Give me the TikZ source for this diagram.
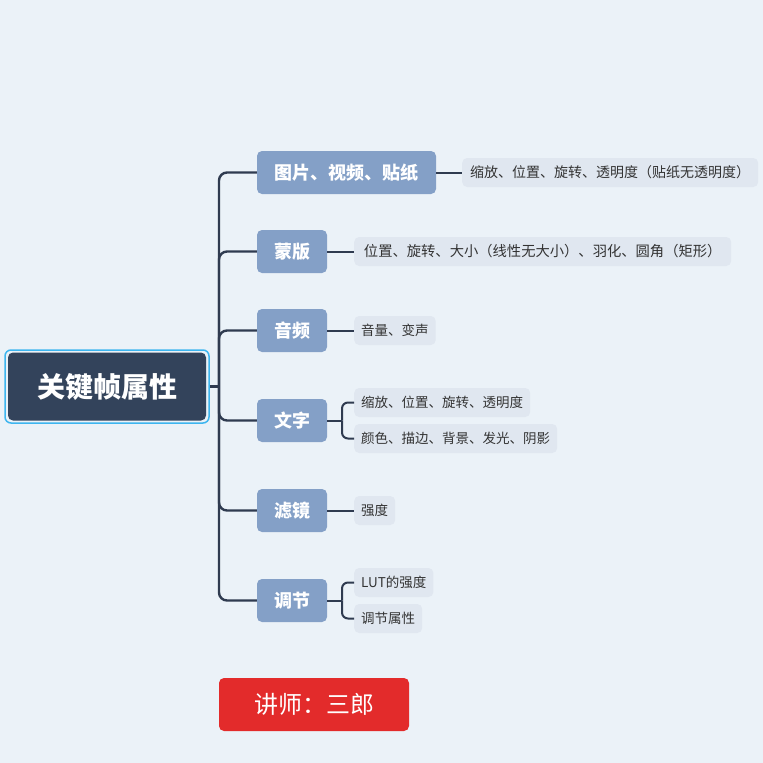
\documentclass[tikz,border=0pt]{standalone}
\usepackage{fontspec}
\setmainfont{Noto Sans CJK SC}
\definecolor{bgc}{HTML}{EBF2F8}
\definecolor{rootc}{HTML}{33435B}
\definecolor{outc}{HTML}{3DB5EF}
\definecolor{mainc}{HTML}{84A0C7}
\definecolor{leafc}{HTML}{E0E7F0}
\definecolor{linec}{HTML}{2F3B50}
\definecolor{redc}{HTML}{E32B2B}
\definecolor{txtc}{HTML}{333333}
\tikzset{
  mainbox/.style={fill=mainc, rounded corners=5pt, text=white, font=\bfseries\fontsize{18}{21}\selectfont, minimum height=43pt, inner xsep=0pt},
  leafbox/.style={fill=leafc, rounded corners=5pt, text=txtc, font=\fontsize{13.5}{16}\selectfont, minimum height=29pt, inner xsep=7pt, inner ysep=0pt, anchor=west},
  conn/.style={draw=linec, line width=2.4pt, rounded corners=8pt},
  conn2/.style={draw=linec, line width=2pt, rounded corners=6pt}
}
\begin{document}
\begin{tikzpicture}[x=1pt,y=-1pt]
\fill[bgc] (0,0) rectangle (763,763);
\useasboundingbox (0,0) rectangle (763,763);

% root
\node[fill=rootc, rounded corners=5pt, minimum width=198pt, minimum height=68pt, text=white, font=\bfseries\fontsize{28}{32}\selectfont] (root) at (107,386.5) {关键帧属性};
\node[draw=outc, line width=1.5pt, rounded corners=6pt, minimum width=204pt, minimum height=73pt] (rootout) at (107,386.5) {};

% main nodes
\node[mainbox, minimum width=179pt] (m1) at (346.5,172.5) {图片、视频、贴纸};
\node[mainbox, minimum width=70pt] (m2) at (292,251.5) {蒙版};
\node[mainbox, minimum width=70pt] (m3) at (292,330.5) {音频};
\node[mainbox, minimum width=70pt] (m4) at (292,420.5) {文字};
\node[mainbox, minimum width=70pt] (m5) at (292,510.5) {滤镜};
\node[mainbox, minimum width=70pt] (m6) at (292,600.5) {调节};

% leaves
\node[leafbox, font=\fontsize{14}{16}\selectfont, minimum width=296pt] (l1) at (462,172.5) {缩放、位置、旋转、透明度（贴纸无透明度）};
\node[leafbox, font=\fontsize{14.3}{16}\selectfont, minimum width=377pt] (l2) at (354,251.5) {位置、旋转、大小（线性无大小）、羽化、圆角（矩形）};
\node[leafbox] (l3) at (354,330.5) {音量、变声};
\node[leafbox] (l4a) at (354,402.5) {缩放、位置、旋转、透明度};
\node[leafbox] (l4b) at (354,438.5) {颜色、描边、背景、发光、阴影};
\node[leafbox] (l5) at (354,510.5) {强度};
\node[leafbox] (l6a) at (354,582.5) {LUT的强度};
\node[leafbox] (l6b) at (354,618.5) {调节属性};

% trunk
\coordinate (tr) at (219,386.5);
\draw[conn, rounded corners=0pt] (rootout.east) -- (tr);
\foreach \m in {m1,m2,m3,m4,m5,m6} {
  \draw[conn] (tr) |- (\m.west);
}

% leaf connectors
\draw[conn2] (m1.east) -- (l1.west);
\draw[conn2] (m2.east) -- (l2.west);
\draw[conn2] (m3.east) -- (l3.west);
\draw[conn2] (m5.east) -- (l5.west);
\coordinate (j4) at (342,420.5);
\draw[conn2] (m4.east) -- (j4);
\draw[conn2] (j4) |- (l4a.west);
\draw[conn2] (j4) |- (l4b.west);
\coordinate (j6) at (342,600.5);
\draw[conn2] (m6.east) -- (j6);
\draw[conn2] (j6) |- (l6a.west);
\draw[conn2] (j6) |- (l6b.west);

% lecturer
\node[fill=redc, rounded corners=5pt, minimum width=190pt, minimum height=53pt, text=white, font=\fontsize{24}{28}\selectfont] (lect) at (314,704.5) {讲师：三郎};
\end{tikzpicture}
\end{document}
